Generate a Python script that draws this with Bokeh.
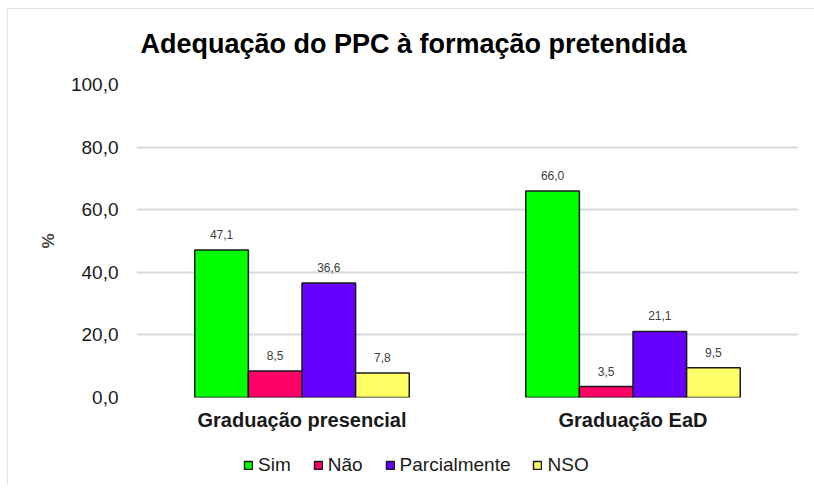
from bokeh.plotting import figure
from bokeh.layouts import column
from bokeh.models import FactorRange, Range1d, FixedTicker, ColumnDataSource, LabelSet, Legend, LegendItem
from bokeh.core.properties import value
from bokeh.transform import dodge
from bokeh.embed import file_html
from bokeh.resources import INLINE

# ---- data ----
categories = ["Graduação presencial", "Graduação EaD"]
series_names = ["Sim", "Não", "Parcialmente", "NSO"]
sim = [47.1, 66.0]
nao = [8.5, 3.5]
parcialmente = [36.6, 21.1]
nso = [7.8, 9.5]
y_ticks = [0, 20, 40, 60, 80, 100]
y_tick_labels = ["0,0", "20,0", "40,0", "60,0", "80,0", "100,0"]
title_text = "Adequação do PPC à formação pretendida"
y_label = "%"

series_values = [sim, nao, parcialmente, nso]
colors = ["#00FF00", "#FF0066", "#6600FF", "#FFFF66"]
offsets = [-0.243, -0.081, 0.081, 0.243]
bar_w = 0.162
FONT = "Liberation Sans"
OUTLINE = "#1a1a1a"


def strip(h):
    f = figure(width=806, height=h, output_backend="svg", toolbar_location=None,
               x_range=Range1d(0, 1), y_range=Range1d(0, 1), min_border=0)
    f.axis.visible = False
    f.grid.visible = False
    f.outline_line_color = None
    f.background_fill_color = "white"
    f.border_fill_color = "white"
    return f


# ---- title strip ----
p0 = strip(60)
p0.text(x=[0.006], y=[0.433], text=[title_text], text_font=value(FONT),
        text_font_size=value("27px"), text_font_style="bold", text_color="#000000",
        text_align="left", text_baseline="middle")

# ---- main chart ----
p = figure(x_range=FactorRange(*categories), y_range=Range1d(0, 100),
           width=806, height=376, output_backend="svg", toolbar_location=None,
           min_border_left=128, min_border_right=16, min_border_top=15, min_border_bottom=48)
p.outline_line_color = None
p.background_fill_color = "white"
p.border_fill_color = "white"

for name, vals, col, off in zip(series_names, series_values, colors, offsets):
    src = ColumnDataSource(dict(x=categories, y=vals,
                                lbl=[f"{v:.1f}".replace(".", ",") for v in vals]))
    p.vbar(x=dodge("x", off, range=p.x_range), top="y", width=bar_w, source=src,
           fill_color=col, line_color=OUTLINE, line_width=1.5)
    p.add_layout(LabelSet(x=dodge("x", off, range=p.x_range), y="y", text="lbl", source=src,
                          text_align="center", text_baseline="bottom", y_offset=11,
                          text_font=value(FONT), text_font_size=value("12px"),
                          text_color="#404040"))

p.xgrid.grid_line_color = None
p.ygrid.grid_line_color = "#d9d9d9"
p.ygrid.grid_line_width = 2

p.yaxis.ticker = FixedTicker(ticks=y_ticks)
p.yaxis.major_label_overrides = {t: l for t, l in zip(y_ticks, y_tick_labels)}
for ax in (p.xaxis[0], p.yaxis[0]):
    ax.axis_line_color = None
    ax.major_tick_line_color = None
    ax.minor_tick_line_color = None
    ax.major_tick_out = 0
    ax.major_tick_in = 0
    ax.minor_tick_out = 0
    ax.minor_tick_in = 0
    ax.major_label_text_font = FONT
    ax.major_label_text_color = "#1a1a1a"
p.yaxis.major_label_text_font_size = "19px"
p.yaxis.major_label_standoff = 18
p.yaxis.axis_label = y_label
p.yaxis.axis_label_text_font = FONT
p.yaxis.axis_label_text_font_size = "17px"
p.yaxis.axis_label_text_font_style = "bold"
p.yaxis.axis_label_standoff = 10
p.xaxis.major_label_text_font_size = "20px"
p.xaxis.major_label_text_font_style = "bold"
p.xaxis.major_label_standoff = 11

# ---- legend strip below the chart (swatch renderers carry no visible data) ----
p2 = strip(40)
items = []
for name, col in zip(series_names, colors):
    r = p2.vbar(x=[float("nan")], top=[float("nan")], width=0.1, fill_color=col,
                line_color=OUTLINE, line_width=1.5)
    items.append(LegendItem(label=name, renderers=[r]))
legend = Legend(items=items, orientation="horizontal", location=(107, 9))
legend.label_text_font = FONT
legend.label_text_font_size = "19px"
legend.label_text_color = "#1a1a1a"
legend.glyph_width = 10
legend.glyph_height = 10
legend.label_height = 20
legend.label_standoff = 5
legend.spacing = 22
legend.padding = 0
legend.margin = 0
legend.border_line_color = None
legend.background_fill_alpha = 0
p2.add_layout(legend, "center")

layout = column(p0, p, p2, spacing=0,
                styles={"border-top": "1px solid #e3e3e3", "border-left": "1px solid #e3e3e3",
                        "margin-left": "7px", "margin-top": "8px"})

open("out.html", "w").write(file_html(layout, INLINE))
